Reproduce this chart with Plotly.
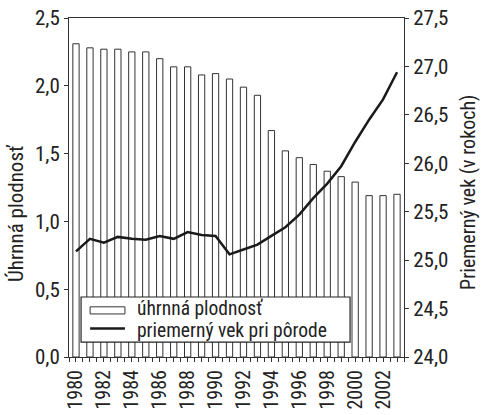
import plotly.graph_objects as go

years = list(range(1980, 2004))
fertility = [2.31, 2.28, 2.27, 2.27, 2.25, 2.25, 2.20, 2.14, 2.14, 2.08, 2.09, 2.05,
             1.99, 1.93, 1.67, 1.52, 1.47, 1.42, 1.37, 1.33, 1.29, 1.19, 1.19, 1.20]
mean_age = [25.09, 25.22, 25.18, 25.24, 25.22, 25.21, 25.25, 25.22, 25.29, 25.26, 25.25, 25.06,
            25.11, 25.16, 25.25, 25.34, 25.47, 25.64, 25.79, 25.97, 26.22, 26.45, 26.66, 26.94]
left_ticks = [0.0, 0.5, 1.0, 1.5, 2.0, 2.5]
right_ticks = [24.0, 24.5, 25.0, 25.5, 26.0, 26.5, 27.0, 27.5]
bar_label = "úhrnná plodnosť"
line_label = "priemerný vek pri pôrode"
left_title = "Úhrnná plodnosť"
right_title = "Priemerný vek (v rokoch)"

FONT = "Roboto Condensed, Liberation Sans Narrow, Arial Narrow, sans-serif"
INK = "#222222"

half_ticks = [y + d for y in years for d in (-0.5, 0.0)] + [years[-1] + 0.5]
half_text = [str(int(v)) if (v == int(v) and int(v) % 2 == 0) else "" for v in half_ticks]

fig = go.Figure()
fig.add_trace(go.Bar(
    x=years, y=fertility, name=bar_label, width=0.45,
    marker=dict(color="white", line=dict(color="#333333", width=1)),
    yaxis="y"))
fig.add_trace(go.Scatter(
    x=years, y=mean_age, name=line_label, mode="lines",
    line=dict(color="#1a1a1a", width=2.5), yaxis="y2"))

# manual legend (box, icons, labels) in paper coordinates
shapes = [
    dict(type="rect", xref="paper", yref="paper", x0=0.036, x1=0.839, y0=0.044, y1=0.177,
         fillcolor="white", line=dict(color=INK, width=1.2), layer="above"),
    dict(type="rect", xref="paper", yref="paper", x0=0.063, x1=0.167, y0=0.127, y1=0.148,
         fillcolor="white", line=dict(color="#333333", width=1), layer="above"),
    dict(type="line", xref="paper", yref="paper", x0=0.063, x1=0.167, y0=0.084, y1=0.084,
         line=dict(color="#1a1a1a", width=2.5), layer="above"),
]
annotations = [
    dict(text=bar_label, xref="paper", yref="paper", x=0.198, y=0.142, xanchor="left",
         yanchor="middle", showarrow=False, font=dict(family=FONT, size=19.5, color=INK)),
    dict(text=line_label, xref="paper", yref="paper", x=0.198, y=0.077, xanchor="left",
         yanchor="middle", showarrow=False, font=dict(family=FONT, size=19.5, color=INK)),
    dict(text=left_title, xref="paper", yref="paper", x=-0.158, y=0.422, xanchor="center",
         yanchor="middle", textangle=-90, showarrow=False,
         font=dict(family=FONT, size=21, color=INK)),
    dict(text=right_title, xref="paper", yref="paper", x=1.191, y=0.487, xanchor="center",
         yanchor="middle", textangle=-90, showarrow=False,
         font=dict(family=FONT, size=20, color=INK)),
]

fig.update_layout(
    width=481, height=415,
    margin=dict(l=69, r=77, t=18, b=58, autoexpand=False),
    plot_bgcolor="white", paper_bgcolor="white",
    separators=", ",
    font=dict(family=FONT, size=21, color=INK),
    showlegend=False,
    shapes=shapes, annotations=annotations,
    xaxis=dict(range=[1979.5, 2003.5], tickmode="array", tickvals=half_ticks, ticktext=half_text,
               tickangle=-90, ticks="outside", ticklen=4, tickcolor="#333",
               showline=True, linecolor="#333", linewidth=1, mirror=True,
               showgrid=False, zeroline=False, automargin=False, tickfont=dict(size=20),
               ticklabeloverflow="allow"),
    yaxis=dict(range=[0, 2.5], tickvals=left_ticks, tickformat=".1f",
               ticks="outside", ticklen=4, tickcolor="#333",
               showline=True, linecolor="#333", linewidth=1,
               showgrid=False, zeroline=False, automargin=False,
               ticklabeloverflow="allow"),
    yaxis2=dict(range=[24, 27.5], tickvals=right_ticks, tickformat=".1f",
                overlaying="y", side="right",
                ticks="outside", ticklen=4, tickcolor="#333",
                showline=True, linecolor="#333", linewidth=1,
                showgrid=False, zeroline=False, automargin=False,
                ticklabeloverflow="allow"),
)

fig.write_html("out.html", config={"displayModeBar": False},
               post_script="document.body.style.margin='0';document.body.style.overflow='hidden';")
